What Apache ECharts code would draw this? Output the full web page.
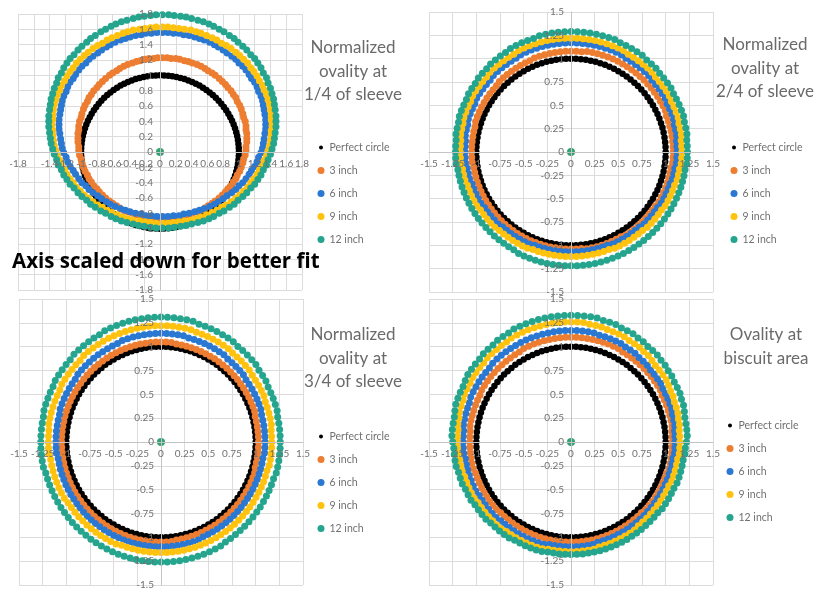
<!DOCTYPE html>
<html>
<head>
<meta charset="utf-8">
<script src="https://cdn.jsdelivr.net/npm/echarts@6/dist/echarts.min.js"></script>
<style>
  html, body { margin: 0; padding: 0; background: #fff; }
  #chart { width: 814px; height: 590px; }
</style>
</head>
<body>
<div id="chart"></div>
<script>
// ---- Measurement angles (degrees), one reading every 3 degrees ----
const ANG = [0,3,6,9,12,15,18,21,24,27,30,33,36,39,42,45,48,51,54,57,60,63,66,69,72,75,78,81,84,87,
  90,93,96,99,102,105,108,111,114,117,120,123,126,129,132,135,138,141,144,147,150,153,156,159,162,165,168,171,174,177,
  180,183,186,189,192,195,198,201,204,207,210,213,216,219,222,225,228,231,234,237,240,243,246,249,252,255,258,261,264,267,
  270,273,276,279,282,285,288,291,294,297,300,303,306,309,312,315,318,321,324,327,330,333,336,339,342,345,348,351,354,357];

// Reference circle (radius 1 at every angle)
const PERFECT_R = [1,1,1,1,1,1,1,1,1,1,1,1,1,1,1,1,1,1,1,1,1,1,1,1,1,1,1,1,1,1,
  1,1,1,1,1,1,1,1,1,1,1,1,1,1,1,1,1,1,1,1,1,1,1,1,1,1,1,1,1,1,
  1,1,1,1,1,1,1,1,1,1,1,1,1,1,1,1,1,1,1,1,1,1,1,1,1,1,1,1,1,1,
  1,1,1,1,1,1,1,1,1,1,1,1,1,1,1,1,1,1,1,1,1,1,1,1,1,1,1,1,1,1];

// Centre of the section
const CENTER = [0, 0];

// ---- 1/4 of sleeve: outline points (x, y) ----
const S1_3IN_X = [1.10,1.10,1.09,1.09,1.08,1.06,1.05,1.03,1.01,.98,
  .96,.93,.90,.86,.83,.79,.75,.70,.66,.61,
  .57,.52,.47,.41,.36,.31,.25,.20,.14,.09,
  .03,-.03,-.08,-.14,-.19,-.25,-.30,-.35,-.41,-.46,
  -.51,-.55,-.60,-.64,-.69,-.73,-.77,-.80,-.84,-.87,
  -.90,-.92,-.95,-.97,-.99,-1.00,-1.02,-1.03,-1.03,-1.04,
  -1.04,-1.04,-1.03,-1.03,-1.02,-1.00,-.99,-.97,-.95,-.92,
  -.90,-.87,-.84,-.80,-.77,-.73,-.69,-.64,-.60,-.55,
  -.51,-.46,-.41,-.35,-.30,-.25,-.19,-.14,-.08,-.03,
  .03,.09,.14,.20,.25,.31,.36,.41,.47,.52,
  .57,.61,.66,.70,.75,.79,.83,.86,.90,.93,
  .96,.98,1.01,1.03,1.05,1.06,1.08,1.09,1.09,1.10];
const S1_3IN_Y = [.18,.24,.29,.34,.40,.45,.50,.56,.61,.66,
  .71,.75,.80,.84,.88,.92,.96,1.00,1.03,1.06,
  1.09,1.12,1.14,1.16,1.18,1.19,1.21,1.22,1.22,1.23,
  1.23,1.23,1.22,1.22,1.21,1.19,1.18,1.16,1.14,1.12,
  1.09,1.06,1.03,1.00,.96,.92,.88,.84,.80,.75,
  .71,.66,.61,.56,.50,.45,.40,.34,.29,.24,
  .18,.13,.07,.02,-.04,-.09,-.14,-.20,-.25,-.30,
  -.35,-.39,-.44,-.48,-.52,-.56,-.60,-.64,-.67,-.70,
  -.73,-.76,-.78,-.80,-.82,-.83,-.85,-.86,-.86,-.87,
  -.87,-.87,-.86,-.86,-.85,-.83,-.82,-.80,-.78,-.76,
  -.73,-.70,-.67,-.64,-.60,-.56,-.52,-.48,-.44,-.39,
  -.35,-.30,-.25,-.20,-.14,-.09,-.04,.02,.07,.13];
const S1_6IN_X = [1.34,1.34,1.33,1.32,1.31,1.30,1.28,1.25,1.23,1.20,
  1.16,1.13,1.09,1.05,1.00,.96,.91,.85,.80,.74,
  .69,.63,.56,.50,.44,.37,.30,.24,.17,.10,
  .03,-.04,-.11,-.18,-.24,-.31,-.38,-.44,-.50,-.57,
  -.63,-.68,-.74,-.79,-.85,-.90,-.94,-.99,-1.03,-1.07,
  -1.10,-1.14,-1.17,-1.19,-1.22,-1.24,-1.25,-1.26,-1.27,-1.28,
  -1.28,-1.28,-1.27,-1.26,-1.25,-1.24,-1.22,-1.19,-1.17,-1.14,
  -1.10,-1.07,-1.03,-.99,-.94,-.90,-.85,-.79,-.74,-.68,
  -.63,-.57,-.50,-.44,-.38,-.31,-.24,-.18,-.11,-.04,
  .03,.10,.17,.24,.30,.37,.44,.50,.56,.63,
  .69,.74,.80,.85,.91,.96,1.00,1.05,1.09,1.13,
  1.16,1.20,1.23,1.25,1.28,1.30,1.31,1.32,1.33,1.34];
const S1_6IN_Y = [.36,.42,.49,.55,.61,.67,.73,.79,.85,.91,
  .96,1.01,1.07,1.12,1.16,1.21,1.25,1.29,1.33,1.37,
  1.40,1.43,1.46,1.48,1.50,1.52,1.53,1.55,1.55,1.56,
  1.56,1.56,1.55,1.55,1.53,1.52,1.50,1.48,1.46,1.43,
  1.40,1.37,1.33,1.29,1.25,1.21,1.16,1.12,1.07,1.01,
  .96,.91,.85,.79,.73,.67,.61,.55,.49,.42,
  .36,.30,.24,.17,.11,.05,-.01,-.07,-.13,-.19,
  -.24,-.29,-.35,-.40,-.44,-.49,-.53,-.57,-.61,-.65,
  -.68,-.71,-.74,-.76,-.78,-.80,-.81,-.83,-.83,-.84,
  -.84,-.84,-.83,-.83,-.81,-.80,-.78,-.76,-.74,-.71,
  -.68,-.65,-.61,-.57,-.53,-.49,-.44,-.40,-.35,-.29,
  -.24,-.19,-.13,-.07,-.01,.05,.11,.17,.24,.30];
const S1_9IN_X = [1.42,1.41,1.41,1.40,1.39,1.37,1.35,1.32,1.30,1.26,
  1.23,1.19,1.15,1.11,1.06,1.01,.96,.90,.84,.78,
  .72,.66,.59,.52,.46,.39,.31,.24,.17,.10,
  .03,-.05,-.12,-.19,-.26,-.34,-.41,-.47,-.54,-.61,
  -.67,-.73,-.79,-.85,-.91,-.96,-1.01,-1.06,-1.10,-1.14,
  -1.18,-1.21,-1.25,-1.27,-1.30,-1.32,-1.34,-1.35,-1.36,-1.36,
  -1.37,-1.36,-1.36,-1.35,-1.34,-1.32,-1.30,-1.27,-1.25,-1.21,
  -1.18,-1.14,-1.10,-1.06,-1.01,-.96,-.91,-.85,-.79,-.73,
  -.67,-.61,-.54,-.47,-.41,-.34,-.26,-.19,-.12,-.05,
  .03,.10,.17,.24,.31,.39,.46,.52,.59,.66,
  .72,.78,.84,.90,.96,1.01,1.06,1.11,1.15,1.19,
  1.23,1.26,1.30,1.32,1.35,1.37,1.39,1.40,1.41,1.41];
const S1_9IN_Y = [.35,.42,.48,.55,.62,.68,.75,.81,.87,.93,
  .99,1.05,1.10,1.16,1.21,1.26,1.30,1.35,1.39,1.42,
  1.46,1.49,1.52,1.55,1.57,1.59,1.60,1.61,1.62,1.63,
  1.63,1.63,1.62,1.61,1.60,1.59,1.57,1.55,1.52,1.49,
  1.46,1.42,1.39,1.35,1.30,1.26,1.21,1.16,1.10,1.05,
  .99,.93,.87,.81,.75,.68,.62,.55,.48,.42,
  .35,.28,.22,.15,.08,.02,-.05,-.11,-.17,-.23,
  -.29,-.35,-.40,-.46,-.51,-.56,-.60,-.65,-.69,-.72,
  -.76,-.79,-.82,-.85,-.87,-.89,-.90,-.91,-.92,-.93,
  -.93,-.93,-.92,-.91,-.90,-.89,-.87,-.85,-.82,-.79,
  -.76,-.72,-.69,-.65,-.60,-.56,-.51,-.46,-.40,-.35,
  -.29,-.23,-.17,-.11,-.05,.02,.08,.15,.22,.28];
const S1_12IN_X = [1.47,1.47,1.46,1.45,1.44,1.42,1.40,1.37,1.35,1.31,
  1.28,1.24,1.20,1.15,1.10,1.05,.99,.94,.88,.81,
  .75,.68,.62,.55,.48,.40,.33,.26,.18,.11,
  .03,-.05,-.12,-.20,-.27,-.34,-.42,-.49,-.56,-.62,
  -.69,-.75,-.82,-.88,-.93,-.99,-1.04,-1.09,-1.14,-1.18,
  -1.22,-1.25,-1.29,-1.31,-1.34,-1.36,-1.38,-1.39,-1.40,-1.41,
  -1.41,-1.41,-1.40,-1.39,-1.38,-1.36,-1.34,-1.31,-1.29,-1.25,
  -1.22,-1.18,-1.14,-1.09,-1.04,-.99,-.93,-.88,-.82,-.75,
  -.69,-.62,-.56,-.49,-.42,-.34,-.27,-.20,-.12,-.05,
  .03,.11,.18,.26,.33,.40,.48,.55,.62,.68,
  .75,.81,.88,.94,.99,1.05,1.10,1.15,1.20,1.24,
  1.28,1.31,1.35,1.37,1.40,1.42,1.44,1.45,1.46,1.47];
const S1_12IN_Y = [.40,.47,.55,.62,.69,.76,.83,.90,.97,1.03,
  1.10,1.16,1.22,1.27,1.33,1.38,1.43,1.48,1.52,1.57,
  1.60,1.64,1.67,1.70,1.72,1.74,1.76,1.77,1.78,1.79,
  1.79,1.79,1.78,1.77,1.76,1.74,1.72,1.70,1.67,1.64,
  1.60,1.57,1.52,1.48,1.43,1.38,1.33,1.27,1.22,1.16,
  1.10,1.03,.97,.90,.83,.76,.69,.62,.55,.47,
  .40,.33,.25,.18,.11,.04,-.03,-.10,-.17,-.23,
  -.30,-.36,-.42,-.47,-.53,-.58,-.63,-.68,-.72,-.77,
  -.80,-.84,-.87,-.90,-.92,-.94,-.96,-.97,-.98,-.99,
  -.99,-.99,-.98,-.97,-.96,-.94,-.92,-.90,-.87,-.84,
  -.80,-.77,-.72,-.68,-.63,-.58,-.53,-.47,-.42,-.36,
  -.30,-.23,-.17,-.10,-.03,.04,.11,.18,.25,.33];

// ---- 2/4 of sleeve: radius at each angle of ANG ----
const S2_3IN = [1.08,1.08,1.08,1.08,1.08,1.08,1.08,1.08,1.09,1.09,
  1.09,1.09,1.09,1.09,1.09,1.09,1.09,1.09,1.09,1.09,
  1.09,1.09,1.09,1.09,1.09,1.09,1.09,1.09,1.08,1.08,
  1.08,1.08,1.08,1.08,1.08,1.08,1.08,1.08,1.07,1.07,
  1.07,1.07,1.07,1.07,1.07,1.07,1.06,1.06,1.06,1.06,
  1.06,1.06,1.06,1.06,1.06,1.05,1.05,1.05,1.05,1.05,
  1.05,1.05,1.05,1.04,1.04,1.04,1.04,1.04,1.04,1.04,
  1.04,1.04,1.04,1.04,1.04,1.04,1.04,1.04,1.04,1.04,
  1.04,1.04,1.04,1.04,1.04,1.04,1.04,1.04,1.04,1.04,
  1.04,1.04,1.04,1.05,1.05,1.05,1.05,1.05,1.05,1.05,
  1.05,1.06,1.06,1.06,1.06,1.06,1.06,1.06,1.06,1.06,
  1.07,1.07,1.07,1.07,1.07,1.07,1.07,1.07,1.08,1.08];
const S2_6IN = [1.12,1.12,1.12,1.13,1.13,1.13,1.14,1.14,1.14,1.14,
  1.15,1.15,1.15,1.15,1.15,1.16,1.16,1.16,1.16,1.16,
  1.16,1.17,1.17,1.17,1.17,1.17,1.17,1.17,1.17,1.17,
  1.17,1.17,1.17,1.17,1.17,1.17,1.17,1.17,1.17,1.17,
  1.16,1.16,1.16,1.16,1.16,1.16,1.15,1.15,1.15,1.15,
  1.15,1.14,1.14,1.14,1.14,1.13,1.13,1.13,1.12,1.12,
  1.12,1.12,1.12,1.11,1.11,1.11,1.10,1.10,1.10,1.10,
  1.10,1.09,1.09,1.09,1.09,1.09,1.08,1.08,1.08,1.08,
  1.08,1.08,1.08,1.07,1.07,1.07,1.07,1.07,1.07,1.07,
  1.07,1.07,1.07,1.07,1.07,1.07,1.07,1.07,1.08,1.08,
  1.08,1.08,1.08,1.08,1.08,1.09,1.09,1.09,1.09,1.09,
  1.10,1.10,1.10,1.10,1.10,1.11,1.11,1.11,1.12,1.12];
const S2_9IN = [1.17,1.17,1.17,1.18,1.18,1.18,1.19,1.19,1.19,1.19,
  1.20,1.20,1.20,1.20,1.20,1.21,1.21,1.21,1.21,1.21,
  1.21,1.22,1.22,1.22,1.22,1.22,1.22,1.22,1.22,1.22,
  1.22,1.22,1.22,1.22,1.22,1.22,1.22,1.22,1.22,1.22,
  1.21,1.21,1.21,1.21,1.21,1.21,1.20,1.20,1.20,1.20,
  1.20,1.19,1.19,1.19,1.19,1.18,1.18,1.18,1.17,1.17,
  1.17,1.17,1.17,1.16,1.16,1.16,1.15,1.15,1.15,1.15,
  1.15,1.14,1.14,1.14,1.14,1.14,1.13,1.13,1.13,1.13,
  1.13,1.13,1.13,1.12,1.12,1.12,1.12,1.12,1.12,1.12,
  1.12,1.12,1.12,1.12,1.12,1.12,1.12,1.12,1.13,1.13,
  1.13,1.13,1.13,1.13,1.13,1.14,1.14,1.14,1.14,1.14,
  1.15,1.15,1.15,1.15,1.15,1.16,1.16,1.16,1.17,1.17];
const S2_12IN = [1.23,1.23,1.23,1.24,1.24,1.24,1.25,1.25,1.25,1.25,
  1.25,1.26,1.26,1.26,1.26,1.27,1.27,1.27,1.28,1.28,
  1.28,1.28,1.28,1.29,1.29,1.29,1.29,1.29,1.29,1.29,
  1.29,1.29,1.29,1.29,1.29,1.29,1.28,1.28,1.28,1.28,
  1.28,1.27,1.27,1.27,1.27,1.26,1.26,1.26,1.25,1.25,
  1.25,1.24,1.24,1.24,1.24,1.23,1.23,1.23,1.22,1.22,
  1.22,1.22,1.22,1.21,1.21,1.21,1.21,1.21,1.21,1.21,
  1.21,1.21,1.21,1.21,1.21,1.21,1.21,1.21,1.21,1.21,
  1.21,1.22,1.22,1.22,1.22,1.22,1.22,1.22,1.22,1.22,
  1.22,1.22,1.22,1.22,1.22,1.22,1.22,1.22,1.22,1.22,
  1.22,1.22,1.22,1.22,1.22,1.22,1.22,1.22,1.22,1.22,
  1.22,1.22,1.22,1.22,1.22,1.22,1.22,1.22,1.23,1.23];

// ---- 3/4 of sleeve ----
const S3_3IN = [1.03,1.03,1.03,1.03,1.03,1.03,1.04,1.04,1.04,1.04,
  1.04,1.04,1.04,1.04,1.04,1.04,1.04,1.04,1.04,1.04,
  1.04,1.04,1.04,1.04,1.04,1.04,1.04,1.04,1.05,1.05,
  1.05,1.05,1.05,1.05,1.05,1.05,1.05,1.05,1.05,1.05,
  1.05,1.05,1.05,1.05,1.05,1.05,1.05,1.05,1.05,1.05,
  1.05,1.05,1.05,1.05,1.05,1.05,1.05,1.05,1.05,1.05,
  1.05,1.05,1.05,1.05,1.05,1.05,1.05,1.05,1.05,1.05,
  1.05,1.05,1.05,1.05,1.05,1.05,1.05,1.05,1.05,1.05,
  1.05,1.05,1.05,1.05,1.05,1.05,1.05,1.05,1.05,1.05,
  1.05,1.05,1.05,1.04,1.04,1.04,1.04,1.04,1.04,1.04,
  1.04,1.04,1.04,1.04,1.04,1.04,1.04,1.04,1.04,1.04,
  1.04,1.04,1.04,1.04,1.04,1.03,1.03,1.03,1.03,1.03];
const S3_6IN = [1.10,1.10,1.10,1.10,1.10,1.10,1.11,1.11,1.11,1.11,
  1.11,1.11,1.11,1.12,1.12,1.12,1.12,1.12,1.13,1.13,
  1.13,1.13,1.13,1.13,1.13,1.13,1.14,1.14,1.14,1.14,
  1.14,1.14,1.14,1.14,1.14,1.14,1.14,1.14,1.13,1.13,
  1.13,1.13,1.13,1.13,1.13,1.13,1.13,1.13,1.12,1.12,
  1.12,1.12,1.12,1.12,1.12,1.11,1.11,1.11,1.11,1.11,
  1.11,1.11,1.11,1.10,1.10,1.10,1.10,1.10,1.10,1.10,
  1.10,1.10,1.10,1.10,1.10,1.10,1.10,1.10,1.10,1.10,
  1.10,1.10,1.10,1.10,1.10,1.10,1.10,1.10,1.10,1.10,
  1.10,1.10,1.10,1.10,1.10,1.10,1.10,1.10,1.09,1.09,
  1.09,1.09,1.09,1.09,1.09,1.09,1.09,1.09,1.09,1.09,
  1.09,1.09,1.09,1.09,1.09,1.09,1.09,1.09,1.10,1.10];
const S3_9IN = [1.17,1.17,1.17,1.18,1.18,1.18,1.18,1.18,1.19,1.19,
  1.19,1.19,1.19,1.20,1.20,1.20,1.20,1.20,1.21,1.21,
  1.21,1.21,1.21,1.21,1.21,1.22,1.22,1.22,1.22,1.22,
  1.22,1.22,1.22,1.22,1.22,1.22,1.22,1.22,1.22,1.22,
  1.22,1.22,1.22,1.22,1.22,1.21,1.21,1.21,1.21,1.21,
  1.21,1.20,1.20,1.20,1.20,1.20,1.20,1.20,1.19,1.19,
  1.19,1.19,1.19,1.18,1.18,1.18,1.18,1.18,1.18,1.18,
  1.18,1.17,1.17,1.17,1.17,1.17,1.17,1.17,1.17,1.17,
  1.17,1.17,1.17,1.16,1.16,1.16,1.16,1.16,1.16,1.16,
  1.16,1.16,1.16,1.16,1.16,1.16,1.16,1.16,1.16,1.16,
  1.16,1.16,1.16,1.16,1.16,1.16,1.16,1.16,1.16,1.16,
  1.16,1.16,1.16,1.16,1.16,1.16,1.17,1.17,1.17,1.17];
const S3_12IN = [1.26,1.26,1.26,1.26,1.26,1.27,1.27,1.27,1.27,1.27,
  1.28,1.28,1.28,1.29,1.29,1.29,1.29,1.29,1.30,1.30,
  1.30,1.30,1.30,1.30,1.30,1.31,1.31,1.31,1.31,1.31,
  1.31,1.31,1.31,1.31,1.31,1.31,1.31,1.31,1.31,1.31,
  1.30,1.30,1.30,1.30,1.30,1.30,1.29,1.29,1.29,1.29,
  1.29,1.28,1.28,1.28,1.28,1.28,1.27,1.27,1.27,1.27,
  1.27,1.27,1.27,1.27,1.27,1.26,1.26,1.26,1.26,1.26,
  1.26,1.26,1.26,1.26,1.26,1.26,1.26,1.26,1.26,1.26,
  1.26,1.26,1.26,1.26,1.26,1.26,1.26,1.26,1.26,1.26,
  1.26,1.26,1.26,1.26,1.26,1.26,1.26,1.26,1.26,1.26,
  1.26,1.25,1.25,1.25,1.25,1.25,1.25,1.25,1.25,1.25,
  1.25,1.25,1.25,1.25,1.25,1.26,1.26,1.26,1.26,1.26];

// ---- Biscuit area ----
const S4_3IN = [1.07,1.07,1.07,1.08,1.08,1.08,1.08,1.08,1.08,1.08,
  1.09,1.09,1.09,1.09,1.09,1.09,1.09,1.09,1.09,1.09,
  1.09,1.10,1.10,1.10,1.10,1.10,1.10,1.10,1.10,1.10,
  1.10,1.10,1.10,1.10,1.10,1.10,1.10,1.10,1.10,1.10,
  1.09,1.09,1.09,1.09,1.09,1.09,1.09,1.09,1.09,1.09,
  1.09,1.08,1.08,1.08,1.08,1.08,1.08,1.08,1.07,1.07,
  1.07,1.07,1.07,1.07,1.07,1.07,1.06,1.06,1.06,1.06,
  1.06,1.06,1.06,1.06,1.06,1.05,1.05,1.05,1.05,1.05,
  1.05,1.05,1.05,1.05,1.05,1.05,1.05,1.05,1.05,1.05,
  1.05,1.05,1.05,1.05,1.05,1.05,1.05,1.05,1.05,1.05,
  1.05,1.05,1.05,1.05,1.05,1.05,1.06,1.06,1.06,1.06,
  1.06,1.06,1.06,1.06,1.06,1.07,1.07,1.07,1.07,1.07];
const S4_6IN = [1.10,1.10,1.10,1.11,1.11,1.11,1.12,1.12,1.12,1.12,
  1.12,1.13,1.13,1.13,1.13,1.14,1.14,1.14,1.15,1.15,
  1.15,1.16,1.16,1.16,1.16,1.16,1.17,1.17,1.17,1.17,
  1.17,1.17,1.17,1.17,1.17,1.17,1.17,1.17,1.17,1.17,
  1.17,1.17,1.17,1.17,1.17,1.17,1.16,1.16,1.16,1.16,
  1.16,1.16,1.16,1.15,1.15,1.15,1.15,1.15,1.14,1.14,
  1.14,1.14,1.14,1.13,1.13,1.13,1.13,1.13,1.13,1.13,
  1.12,1.12,1.12,1.12,1.12,1.12,1.11,1.11,1.11,1.11,
  1.11,1.11,1.11,1.11,1.11,1.11,1.10,1.10,1.10,1.10,
  1.10,1.10,1.10,1.10,1.10,1.09,1.09,1.09,1.09,1.09,
  1.09,1.09,1.09,1.09,1.09,1.09,1.09,1.09,1.09,1.09,
  1.09,1.09,1.09,1.09,1.09,1.09,1.09,1.09,1.10,1.10];
const S4_9IN = [1.15,1.15,1.15,1.16,1.16,1.17,1.17,1.17,1.18,1.18,
  1.19,1.20,1.20,1.20,1.20,1.21,1.22,1.22,1.23,1.23,
  1.23,1.24,1.24,1.24,1.24,1.25,1.25,1.25,1.26,1.26,
  1.26,1.26,1.26,1.26,1.26,1.26,1.26,1.26,1.26,1.26,
  1.26,1.25,1.25,1.25,1.25,1.25,1.24,1.24,1.24,1.24,
  1.23,1.23,1.23,1.22,1.22,1.22,1.21,1.21,1.20,1.20,
  1.20,1.20,1.20,1.19,1.19,1.19,1.18,1.18,1.18,1.18,
  1.18,1.17,1.17,1.17,1.17,1.17,1.17,1.17,1.16,1.16,
  1.16,1.16,1.16,1.16,1.16,1.16,1.15,1.15,1.15,1.15,
  1.15,1.15,1.15,1.15,1.15,1.14,1.14,1.14,1.14,1.14,
  1.14,1.14,1.14,1.13,1.13,1.13,1.13,1.13,1.13,1.13,
  1.13,1.13,1.13,1.14,1.14,1.14,1.14,1.14,1.15,1.15];
const S4_12IN = [1.22,1.23,1.23,1.23,1.23,1.24,1.25,1.25,1.26,1.26,
  1.26,1.27,1.27,1.28,1.28,1.29,1.29,1.29,1.30,1.30,
  1.31,1.31,1.31,1.32,1.32,1.32,1.33,1.33,1.33,1.33,
  1.33,1.33,1.33,1.33,1.33,1.33,1.33,1.33,1.33,1.33,
  1.32,1.32,1.32,1.31,1.31,1.31,1.30,1.30,1.30,1.30,
  1.29,1.28,1.28,1.28,1.28,1.27,1.26,1.26,1.26,1.26,
  1.25,1.24,1.24,1.24,1.24,1.23,1.23,1.23,1.22,1.22,
  1.22,1.21,1.21,1.21,1.21,1.20,1.20,1.20,1.20,1.20,
  1.19,1.19,1.19,1.19,1.19,1.19,1.18,1.18,1.18,1.18,
  1.18,1.18,1.18,1.18,1.18,1.18,1.18,1.18,1.18,1.18,
  1.18,1.18,1.18,1.18,1.18,1.18,1.18,1.18,1.19,1.19,
  1.19,1.19,1.19,1.20,1.20,1.20,1.20,1.20,1.21,1.21];

// ---- Labels ----
const SERIES_NAMES = ['Perfect circle', '3 inch', '6 inch', '9 inch', '12 inch'];
const PANEL_TITLES = [
  'Normalized\novality at\n1/4 of sleeve',
  'Normalized\novality at\n2/4 of sleeve',
  'Normalized\novality at\n3/4 of sleeve',
  'Ovality at\nbiscuit area'
];
const NOTE_TEXT = 'Axis scaled down for better fit';

// ---- Styling / layout ----
const FONT = 'Lato, "Open Sans", sans-serif';
const RING_COLORS = ['#ED7D31', '#2A78D2', '#FFC20E', '#25A58E'];
const CENTER_COLOR = '#33A272';
const PANELS = [
  { left: 18,  top: 14,  width: 284, height: 276, min: -1.8, max: 1.8, step: 0.2,
    titleX: 353, titleY: 36,  legendX: 316, legendY: 141 },
  { left: 429, top: 12,  width: 284, height: 280, min: -1.5, max: 1.5, step: 0.25,
    titleX: 765, titleY: 33,  legendX: 729, legendY: 141 },
  { left: 19,  top: 299, width: 284, height: 286, min: -1.5, max: 1.5, step: 0.25,
    titleX: 353, titleY: 323, legendX: 316, legendY: 430 },
  { left: 429, top: 299, width: 284, height: 286, min: -1.5, max: 1.5, step: 0.25,
    titleX: 766, titleY: 323, legendX: 725, legendY: 419 }
];

const RAD = Math.PI / 180;
const fromPolar = (angles, radii) => angles.map((a, i) => [radii[i] * Math.cos(a * RAD), radii[i] * Math.sin(a * RAD)]);
const zipXY = (xs, ys) => xs.map((x, i) => [x, ys[i]]);

const perfect = fromPolar(ANG, PERFECT_R);
const PANEL_RINGS = [
  [zipXY(S1_3IN_X, S1_3IN_Y), zipXY(S1_6IN_X, S1_6IN_Y), zipXY(S1_9IN_X, S1_9IN_Y), zipXY(S1_12IN_X, S1_12IN_Y)],
  [fromPolar(ANG, S2_3IN), fromPolar(ANG, S2_6IN), fromPolar(ANG, S2_9IN), fromPolar(ANG, S2_12IN)],
  [fromPolar(ANG, S3_3IN), fromPolar(ANG, S3_6IN), fromPolar(ANG, S3_9IN), fromPolar(ANG, S3_12IN)],
  [fromPolar(ANG, S4_3IN), fromPolar(ANG, S4_6IN), fromPolar(ANG, S4_9IN), fromPolar(ANG, S4_12IN)]
];

const grids = PANELS.map(p => ({ left: p.left, top: p.top, width: p.width, height: p.height, containLabel: false }));

// axes 0..3 draw the gridlines under the markers; axes 4..7 draw the crossing axis lines and labels on top
const axisBase = (p, i) => ({ type: 'value', gridIndex: i, min: p.min, max: p.max, interval: p.step });
const gridAxis = (p, i, pos) => Object.assign(axisBase(p, i), {
  position: pos, z: 0,
  axisLine: { show: false, onZero: false }, axisTick: { show: false }, axisLabel: { show: false },
  splitLine: { show: true, lineStyle: { color: '#DCDCDC', width: 1 } }
});
const labelAxis = (p, i, pos, offset) => Object.assign(axisBase(p, i), {
  position: pos, offset: offset, z: 10,
  axisLine: { show: true, onZero: false, lineStyle: { color: '#C4C4C4', width: 1 } },
  axisTick: { show: false },
  axisLabel: { show: true, color: '#707070', fontSize: 10, fontFamily: FONT, margin: 7,
    showMinLabel: true, showMaxLabel: true, hideOverlap: false },
  splitLine: { show: false }
});

const xAxis = PANELS.map((p, i) => gridAxis(p, i, 'bottom'))
  .concat(PANELS.map((p, i) => labelAxis(p, i, 'bottom', -p.height / 2)));
const yAxis = PANELS.map((p, i) => gridAxis(p, i, 'left'))
  .concat(PANELS.map((p, i) => labelAxis(p, i, 'left', -p.width / 2)));

const series = [];
PANEL_RINGS.forEach((rings, gi) => {
  series.push({
    name: SERIES_NAMES[0], type: 'scatter', xAxisIndex: gi, yAxisIndex: gi,
    data: perfect, symbol: 'circle', symbolSize: 6.5, itemStyle: { color: '#000', opacity: 1 }, z: 2
  });
  rings.forEach((ring, k) => {
    series.push({
      name: SERIES_NAMES[k + 1], type: 'scatter', xAxisIndex: gi, yAxisIndex: gi,
      data: ring, symbol: 'circle', symbolSize: 7, itemStyle: { color: RING_COLORS[k], opacity: 1 }, z: 3 + k
    });
  });
  series.push({
    name: 'Centre', type: 'scatter', xAxisIndex: gi, yAxisIndex: gi,
    data: [CENTER], symbol: 'circle', symbolSize: 8, itemStyle: { color: CENTER_COLOR, opacity: 1 }, z: 8
  });
});

const titles = PANELS.map((p, i) => ({
  text: PANEL_TITLES[i], left: p.titleX, top: p.titleY, textAlign: 'center', padding: 0,
  textStyle: { fontFamily: FONT, fontSize: 17, fontWeight: 'normal', color: '#6A6A6A', lineHeight: 23.5 }
}));

const legends = PANELS.map(p => ({
  left: p.legendX, top: p.legendY, orient: 'vertical', icon: 'circle',
  itemWidth: 7, itemHeight: 7, itemGap: 10, padding: 0,
  textStyle: { fontFamily: FONT, fontSize: 10.5, color: '#707070', lineHeight: 13 },
  data: SERIES_NAMES.map((n, i) => i === 0
    ? { name: n, itemStyle: { color: '#000', opacity: 1, borderColor: '#fff', borderWidth: 3 } }
    : { name: n, itemStyle: { opacity: 1 } })
}));

const chart = echarts.init(document.getElementById('chart'));
chart.setOption({
  animation: false,
  backgroundColor: '#fff',
  textStyle: { fontFamily: FONT },
  title: titles,
  legend: legends,
  grid: grids,
  xAxis: xAxis,
  yAxis: yAxis,
  series: series,
  graphic: [{
    type: 'text', left: 12, top: 252, z: 100,
    style: { text: NOTE_TEXT, font: 'bold 20.5px "Open Sans", Lato, sans-serif', fill: '#000' }
  }]
});
</script>
</body>
</html>
